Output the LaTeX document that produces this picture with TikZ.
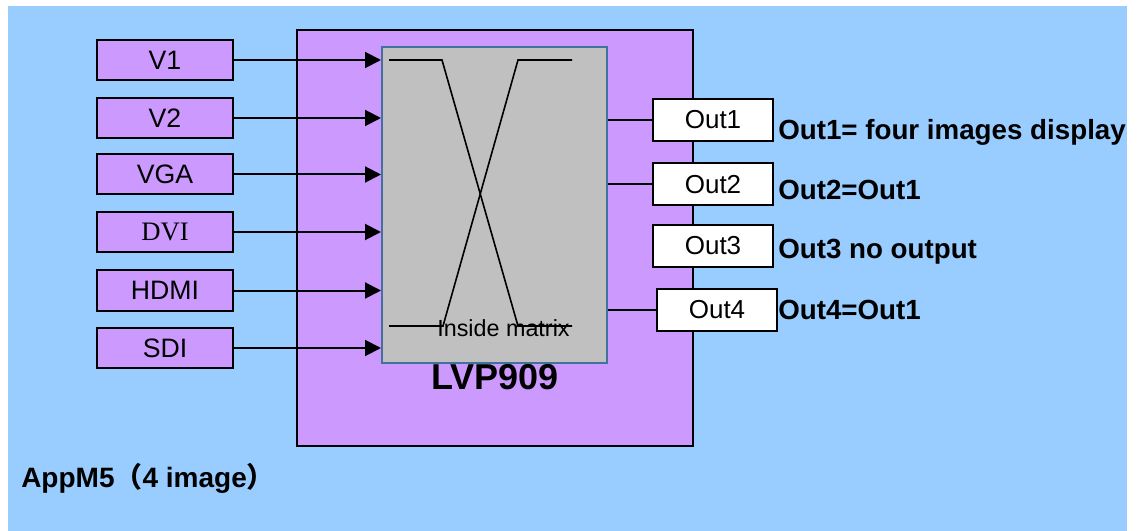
\documentclass[tikz,border=0pt]{standalone}
\usepackage{fontspec}
\setmainfont{Liberation Sans}
\newfontfamily\seriffont{Liberation Serif}
\newfontfamily\cjk{Noto Sans CJK SC}
\usetikzlibrary{arrows.meta}
\definecolor{bgblue}{HTML}{99CCFF}
\definecolor{lilac}{HTML}{CC99FF}
\definecolor{matgray}{HTML}{C0C0C0}
\definecolor{steel}{HTML}{41719C}
\tikzset{
  inbox/.style={draw=black, line width=1.5pt, fill=lilac, minimum width=102pt, minimum height=30pt, inner sep=0pt, font=\fontsize{20}{24}\selectfont},
  outbox/.style={draw=black, line width=1.5pt, fill=white, minimum width=90pt, minimum height=31.5pt, inner sep=0pt, font=\fontsize{19.5}{23}\selectfont},
  lbl/.style={anchor=base west, inner sep=0pt, font=\fontsize{20.8}{24}\selectfont\bfseries},
  feed/.style={line width=1.5pt, -{Triangle[length=12pt, width=12pt]}},
  tap/.style={line width=1.5pt},
  xline/.style={line width=1.2pt}
}
\begin{document}
\begin{tikzpicture}[x=0.75pt, y=-0.75pt]
\useasboundingbox (0,0) rectangle (1143,531);
\fill[bgblue] (8,6) rectangle (1127,531);
% main device
\node[draw=black, line width=1.5pt, fill=lilac, minimum width=297pt, minimum height=312pt, inner sep=0pt] (lvp) at (495,238) {};
\node[anchor=base, inner sep=0pt, font=\fontsize{27}{30}\selectfont\bfseries] (lvpname) at (495,389) {LVP909};
% matrix
\node[draw=steel, line width=1.5pt, fill=matgray, minimum width=168.75pt, minimum height=237pt, inner sep=0pt] (mx) at (494.5,205) {};
\coordinate (tl) at (389,60);
\coordinate (ta) at (442,60);
\coordinate (tb) at (518,60);
\coordinate (tr) at (572,60);
\coordinate (bl) at (389,326);
\coordinate (ba) at (443,326);
\coordinate (bb) at (518,326);
\coordinate (br) at (572,326);
\draw[xline] (tl) -- (ta) -- (bb) -- (br);
\draw[xline] (tr) -- (tb) -- (ba) -- (bl);
\node[anchor=base, inner sep=0pt, font=\fontsize{17.5}{20}\selectfont] (inside) at (503.5,336) {Inside matrix};
% inputs
\node[inbox] (v1) at (165,60) {V1};
\node[inbox] (v2) at (165,118) {V2};
\node[inbox] (vga) at (165,174.5) {VGA};
\node[inbox, font=\fontsize{20}{24}\selectfont\seriffont] (dvi) at (165,232) {DVI};
\node[inbox] (hdmi) at (165,290.5) {HDMI};
\node[inbox] (sdi) at (165,348) {SDI};
\foreach \n in {v1,v2,vga,dvi,hdmi,sdi}
  \draw[feed] (\n.east) -- (\n.east -| mx.west);
% outputs
\node[outbox] (o1) at (713,120) {Out1};
\node[outbox] (o2) at (713,184.5) {Out2};
\node[outbox] (o3) at (713,246) {Out3};
\node[outbox] (o4) at (717,310) {Out4};
\foreach \n in {o1,o2,o4}
  \draw[tap] (\n.west -| mx.east) -- (\n.west);
\node[lbl] (l1) at (778,140) {Out1= four images display};
\node[lbl] (l2) at (778,200) {Out2=Out1};
\node[lbl] (l3) at (778,258) {Out3 no output};
\node[lbl] (l4) at (778,320) {Out4=Out1};
% caption
\node[anchor=base west, inner sep=0pt, font=\fontsize{21}{24}\selectfont\bfseries] (cap) at (21,487) {AppM5{\cjk （}4 image{\cjk ）}};
\end{tikzpicture}
\end{document}
